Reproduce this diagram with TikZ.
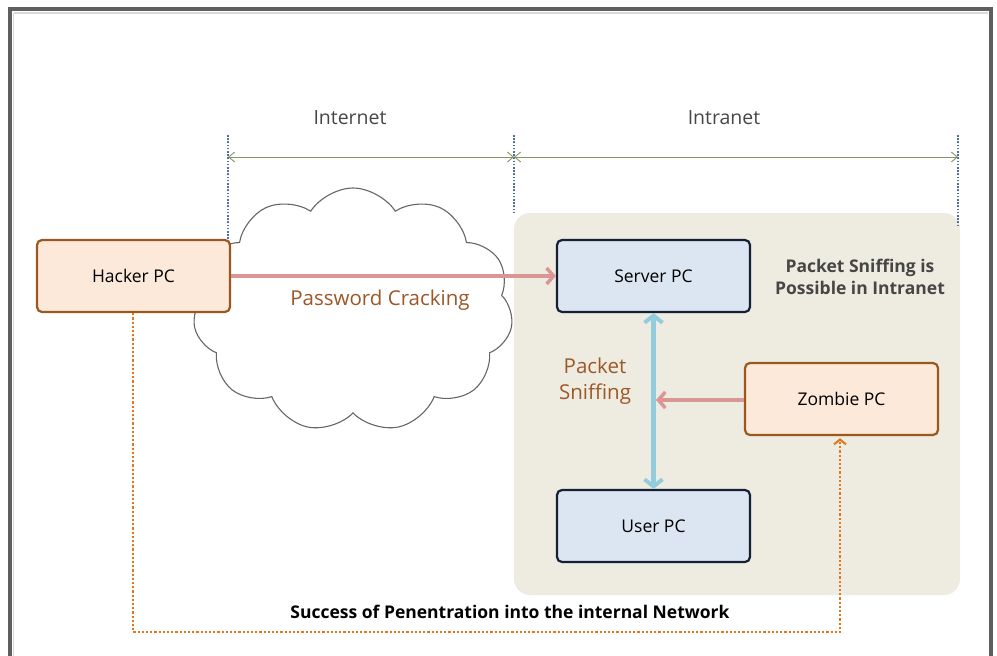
\documentclass[tikz,border=0pt]{standalone}
\usepackage{fontspec}
\setmainfont{Open Sans}
\usetikzlibrary{arrows.meta,shapes.symbols}
\definecolor{hackfill}{RGB}{253,233,217}
\definecolor{hackdraw}{RGB}{152,88,30}
\definecolor{srvfill}{RGB}{220,230,242}
\definecolor{srvdraw}{RGB}{22,32,52}
\definecolor{intrabg}{RGB}{238,236,225}
\definecolor{pinkarr}{RGB}{218,150,148}
\definecolor{bluearr}{RGB}{147,205,221}
\definecolor{orangedot}{RGB}{228,118,30}
\definecolor{browntxt}{RGB}{156,88,38}
\definecolor{dimline}{RGB}{135,150,100}
\definecolor{bluedot}{RGB}{80,110,160}
\definecolor{graytxt}{RGB}{70,70,70}
\definecolor{framecol}{RGB}{95,95,95}
\tikzset{
  pcbox/.style={rectangle, rounded corners=5pt, line width=2.2pt, minimum width=193pt, minimum height=72pt, inner sep=0pt, font=\fontsize{17.5}{20}\selectfont, text=black},
  hackbox/.style={pcbox, fill=hackfill, draw=hackdraw},
  srvbox/.style={pcbox, fill=srvfill, draw=srvdraw},
  dimarrow/.style={draw=dimline, line width=0.9pt, {Straight Barb[length=6pt,width=10pt]}-{Straight Barb[length=6pt,width=10pt]}},
  bluedotted/.style={draw=bluedot, line width=1.8pt, dash pattern=on 1.6pt off 1.6pt},
  pinkline/.style={draw=pinkarr, line width=4pt, -{Straight Barb[length=7pt,width=16pt,line width=3.5pt]}},
  brownlabel/.style={text=browntxt, font=\fontsize{20.5}{26}\selectfont, align=center},
  boldlabel/.style={font=\bfseries\fontsize{17.5}{22}\selectfont, align=center}
}
\begin{document}
\begin{tikzpicture}[x=1pt,y=-1pt]
\useasboundingbox (0,0) rectangle (997,656);
\begin{scope}
\clip (0,0) rectangle (997,656);
% frame
\draw[line width=3.2pt, draw=framecol] (10,9) rectangle (991,680);
\draw[line width=2.5pt, draw=gray!30] (13.5,13) -- (987.5,13);
\draw[line width=1.5pt, draw=gray!30] (13.5,13) -- (13.5,680);
% intranet background
\fill[intrabg, rounded corners=16pt] (514,213) rectangle (960,595);
\end{scope}
% region labels
\node[text=graytxt, font=\fontsize{19.5}{22}\selectfont] (lint) at (350,118) {Internet};
\node[text=graytxt, font=\fontsize{19.5}{22}\selectfont] (lintra) at (724,118) {Intranet};
% dotted boundaries
\coordinate (b1t) at (228,135); \coordinate (b1b) at (228,240);
\coordinate (b2t) at (514,135); \coordinate (b2b) at (514,213);
\coordinate (b3t) at (958,135); \coordinate (b3b) at (958,225);
\draw[bluedotted] (b1t) -- (b1b);
\draw[bluedotted] (b2t) -- (b2b);
\draw[bluedotted] (b3t) -- (b3b);
% dimension arrows
\coordinate (d1) at (228,157); \coordinate (d2) at (514,157); \coordinate (d3) at (958,157);
\draw[dimarrow] (d1) -- (d2);
\draw[dimarrow] (d2) -- (d3);
% cloud
\node[cloud, cloud puffs=11, cloud puff arc=115, aspect=1.35, draw=gray!80!black, line width=1.1pt, fill=white, minimum width=320pt, minimum height=244pt, inner sep=0pt] (cloud) at (353,310) {};
% boxes
\node[hackbox] (hacker) at (133.5,276) {Hacker PC};
\node[srvbox] (server) at (653.5,276) {Server PC};
\node[hackbox] (zombie) at (841.5,399) {Zombie PC};
\node[srvbox] (user) at (653.5,526) {User PC};
% labels
\node[brownlabel] (pwd) at (380,300) {Password Cracking};
\node[brownlabel, font=\fontsize{20.5}{26}\selectfont] (sniff) at (595,381) {Packet\\Sniffing};
\node[boldlabel, text=graytxt] (possible) at (860,277) {Packet Sniffing is\\Possible in Intranet};
\node[boldlabel, text=black] (success) at (510,612) {Success of Penentration into the internal Network};
% arrows
\draw[pinkline] (hacker.east) -- (server.west);
\draw[draw=bluearr, line width=4.5pt, {Straight Barb[length=7pt,width=18pt,line width=4pt]}-{Straight Barb[length=7pt,width=18pt,line width=4pt]}] (server.south) -- (user.north);
\coordinate (mid) at (656,400);
\draw[pinkline] (zombie.west |- mid) -- (mid);
\coordinate (c1) at (133,632); \coordinate (c2) at (840,632);
\draw[draw=orangedot, line width=2.8pt, dash pattern=on 2.2pt off 2pt, -{Straight Barb[length=5pt,width=12pt,line width=2pt,sep=2pt]}] (hacker.south -| c1) -- (c1) -- (c2) -- (zombie.south -| c2);
\end{tikzpicture}
\end{document}
